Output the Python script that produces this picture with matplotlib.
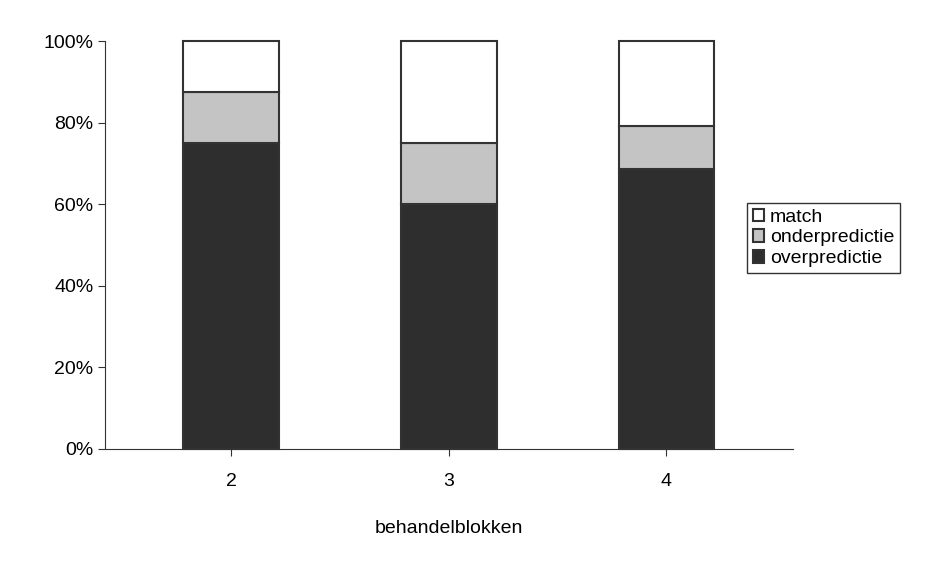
import matplotlib
matplotlib.use("Agg")
import matplotlib.pyplot as plt
from matplotlib.ticker import FuncFormatter

categories = ["2", "3", "4"]
overpredictie = [75.0, 60.0, 68.75]
onderpredictie = [12.5, 15.0, 10.45]
match = [12.5, 25.0, 20.8]

plt.rcParams['font.family'] = ['Liberation Sans', 'DejaVu Sans']
fig = plt.figure(figsize=(9.39, 5.63), dpi=100)
ax = fig.add_axes([0.112, 0.2025, 0.732, 0.7245])
x = [2, 3, 4]
w = 0.44
kw = dict(width=w, edgecolor='#333333', linewidth=1.5, clip_on=False)
b1 = ax.bar(x, overpredictie, color='#2e2e2e', label='overpredictie', **kw)
b2 = ax.bar(x, onderpredictie, bottom=overpredictie, color='#c4c4c4', label='onderpredictie', **kw)
bot = [a + b for a, b in zip(overpredictie, onderpredictie)]
b3 = ax.bar(x, match, bottom=bot, color='white', label='match', **kw)

ax.set_xlim(1.42, 4.58)
ax.set_ylim(0, 100)
ax.set_yticks(range(0, 101, 20))
ax.yaxis.set_major_formatter(FuncFormatter(lambda v, p: f"{int(v)}%"))
ax.set_xticks(x)
ax.set_xticklabels(categories)
ax.tick_params(labelsize=14, color='#333333', length=5)
ax.tick_params(axis='x', pad=12)
for s in ['top', 'right']:
    ax.spines[s].set_visible(False)
for s in ['left', 'bottom']:
    ax.spines[s].set_color('#333333')
ax.set_xlabel('behandelblokken', fontsize=14, labelpad=22)

fig.legend(handles=[b3, b2, b1], labels=['match', 'onderpredictie', 'overpredictie'],
           loc='upper left', bbox_to_anchor=(737/939, 1 - 193/563), fontsize=14,
           frameon=True, fancybox=False, edgecolor='black', handlelength=0.6,
           handleheight=0.6, handletextpad=0.3, borderpad=0.3, labelspacing=0.2)
fig.savefig('out.png', dpi=100)
